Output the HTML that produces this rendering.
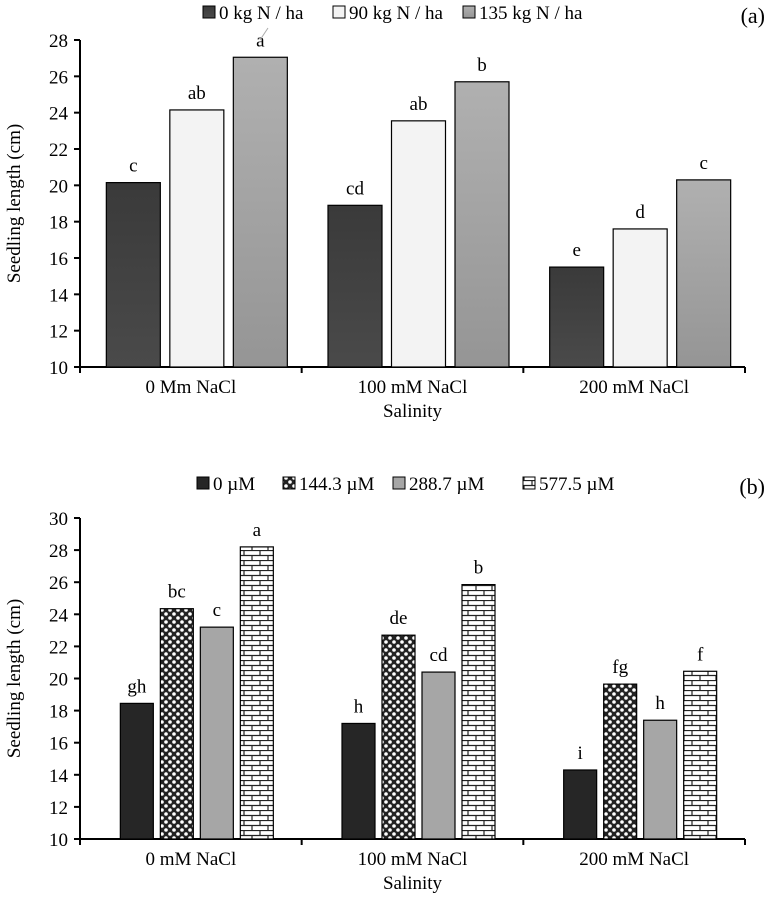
<!DOCTYPE html>
<html><head><meta charset="utf-8"><style>
body{margin:0;background:#fff}
svg{display:block;font-family:"Liberation Serif",serif}
</style></head><body>
<svg id="c" width="770" height="906" viewBox="0 0 770 906">
<defs>
<linearGradient id="gDark" x1="0" y1="0" x2="0" y2="1"><stop offset="0" stop-color="#3a3a3a"/><stop offset="1" stop-color="#4a4a4a"/></linearGradient>
<linearGradient id="gGray" x1="0" y1="0" x2="0" y2="1"><stop offset="0" stop-color="#b0b0b0"/><stop offset="1" stop-color="#959595"/></linearGradient>
<pattern id="pCheck" width="8" height="8" patternUnits="userSpaceOnUse"><rect width="8" height="8" fill="#222"/><circle cx="2" cy="2" r="1.8" fill="#fff"/><circle cx="6" cy="6" r="1.8" fill="#fff"/></pattern>
<pattern id="pBrick" width="16" height="10" patternUnits="userSpaceOnUse"><rect width="16" height="10" fill="#fff"/><path d="M0 0.5H16M0 5.5H16M4 0V5M12 5V10" stroke="#222" stroke-width="1.2"/></pattern>
</defs>
</svg>
<script>
const NS="http://www.w3.org/2000/svg";
const svg=document.getElementById('c');
function mk(t,a,txt){const e=document.createElementNS(NS,t);for(const k in a)e.setAttribute(k,a[k]);if(txt!=null)e.textContent=txt;svg.appendChild(e);return e;}

const catsA=["0 Mm NaCl","100 mM NaCl","200 mM NaCl"];
const seriesA0=[20.15,18.9,15.5];
const seriesA90=[24.15,23.55,17.6];
const seriesA135=[27.05,25.7,20.3];
const lettersA=[["c","cd","e"],["ab","ab","d"],["a","b","c"]];
const namesA=["0 kg N / ha","90 kg N / ha","135 kg N / ha"];
const ticksA=[10,12,14,16,18,20,22,24,26,28];

const catsB=["0 mM NaCl","100 mM NaCl","200 mM NaCl"];
const seriesB0=[18.45,17.2,14.3];
const seriesB144=[24.35,22.7,19.65];
const seriesB288=[23.2,20.4,17.4];
const seriesB577=[28.2,25.85,20.45];
const lettersB=[["gh","h","i"],["bc","de","fg"],["c","cd","h"],["a","b","f"]];
const namesB=["0 µM","144.3 µM","288.7 µM","577.5 µM"];
const ticksB=[10,12,14,16,18,20,22,24,26,28,30];

function chart(o){
  const y=v=>o.y0-(v-o.vmin)/(o.vmax-o.vmin)*(o.y0-o.y1);
  const cw=(o.x1-o.x0)/o.cats.length;
  let e=mk('line',{x1:o.x0,y1:o.y1,x2:o.x0,y2:o.y0,stroke:'#000','stroke-width':2});
  
  e=mk('line',{x1:o.x0,y1:o.y0,x2:o.x1,y2:o.y0,stroke:'#000','stroke-width':2});
  
  o.ticks.forEach(t=>{
    e=mk('line',{x1:o.x0-6,y1:y(t),x2:o.x0,y2:y(t),stroke:'#000','stroke-width':2});
    
    e=mk('text',{x:o.x0-12,y:y(t)+7,'text-anchor':'end','font-size':19},t);
    
  });
  for(let i=0;i<=o.cats.length;i++){
    e=mk('line',{x1:o.x0+i*cw,y1:o.y0,x2:o.x0+i*cw,y2:o.y0+6,stroke:'#000','stroke-width':2});
    
  }
  o.cats.forEach((c,i)=>{
    e=mk('text',{x:o.x0+(i+.5)*cw,y:o.y0+26,'text-anchor':'middle','font-size':19},c);
    
    const n=o.series.length, gw=n*o.bw+(n-1)*o.gap, cx=o.x0+(i+.5)*cw+o.off;
    o.series.forEach((s,j)=>{
      const bx=cx-gw/2+j*(o.bw+o.gap), top=y(s[i]);
      e=mk('rect',{x:bx,y:top,width:o.bw,height:o.y0-top,fill:o.fills[j],stroke:'#000','stroke-width':1.2});
      
      e=mk('text',{x:bx+o.bw/2,y:top-11,'text-anchor':'middle','font-size':19},o.letters[j][i]);
      
    });
  });
  e=mk('text',{x:(o.x0+o.x1)/2,y:o.y0+50,'text-anchor':'middle','font-size':19},'Salinity');
  
  const my=(o.y0+o.y1)/2;
  e=mk('text',{x:20,y:my,'text-anchor':'middle','font-size':19,transform:`rotate(-90 20 ${my})`},'Seedling length (cm)');
  
  e=mk('text',{x:765,y:o.panelY,'text-anchor':'end','font-size':22},o.panel);
  
  let lx=o.legX;
  o.names.forEach((nm,j)=>{
    e=mk('rect',{x:lx,y:o.legY-13,width:12,height:12,fill:o.fills[j],stroke:'#000','stroke-width':1});
    
    e=mk('text',{x:lx+16,y:o.legY,'font-size':19},nm);
    
    lx+=o.legW[j];
  });
}
chart({id:'a',cats:catsA,series:[seriesA0,seriesA90,seriesA135],letters:lettersA,names:namesA,ticks:ticksA,
  x0:80,x1:745,y0:367,y1:40,vmin:10,vmax:28,bw:54,gap:9.5,off:6,fills:['url(#gDark)','#f3f3f3','url(#gGray)'],
  panel:'(a)',panelY:23,legX:203,legY:19,legW:[130,130,130]});
chart({id:'b',cats:catsB,series:[seriesB0,seriesB144,seriesB288,seriesB577],letters:lettersB,names:namesB,ticks:ticksB,
  x0:80,x1:745,y0:839,y1:518,vmin:10,vmax:30,bw:33,gap:7,off:6,fills:['#262626','url(#pCheck)','#a6a6a6','url(#pBrick)'],
  panel:'(b)',panelY:494,legX:197,legY:490,legW:[86,110,130]});
const ll=mk('line',{x1:260,y1:40,x2:268,y2:28,stroke:'#aaa','stroke-width':1});


</script>
</body></html>
